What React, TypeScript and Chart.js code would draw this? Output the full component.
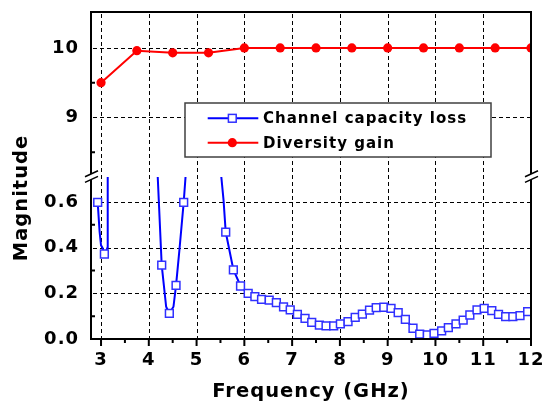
import { useEffect, useRef } from "react";
import { Chart, registerables } from "chart.js";

Chart.register(...registerables);

// Axis ticks
const freqTicks = [3, 4, 5, 6, 7, 8, 9, 10, 11, 12];
const freqMinorTicks = [3.5, 4.5, 5.5, 6.5, 7.5, 8.5, 9.5, 10.5, 11.5];
const gainTicks = [9, 10];
const gainMinorTicks = [8.5, 9.5];
const lossTicks = [0, 0.2, 0.4, 0.6];
const lossMinorTicks = [0.1, 0.3, 0.5];

// Diversity gain (upper panel)
const gainFreq = [3, 3.75, 4.5, 5.25, 6, 6.75, 7.5, 8.25, 9, 9.75, 10.5, 11.25, 12];
const gainValue = [9.5, 9.96, 9.93, 9.93, 10, 10, 10, 10, 10, 10, 10, 10, 10];

// Channel capacity loss: marked samples (lower panel)
const lossMarkFreq = [
  2.93, 3.07, 4.27, 4.43, 4.57, 4.73, 5.61, 5.77, 5.92, 6.08, 6.22, 6.36, 6.52,
  6.67, 6.82, 6.96, 7.11, 7.27, 7.41, 7.57, 7.71, 7.87, 8.01, 8.17, 8.32, 8.47,
  8.62, 8.76, 8.92, 9.07, 9.22, 9.37, 9.53, 9.67, 9.83, 9.97, 10.13, 10.27,
  10.43, 10.58, 10.72, 10.87, 11.02, 11.18, 11.32, 11.47, 11.62, 11.77, 11.93,
];
const lossMarkValue = [
  0.598, 0.372, 0.323, 0.112, 0.235, 0.598, 0.468, 0.303, 0.232, 0.2, 0.185,
  0.173, 0.17, 0.159, 0.141, 0.127, 0.108, 0.09, 0.073, 0.061, 0.057, 0.057,
  0.066, 0.076, 0.095, 0.109, 0.126, 0.137, 0.139, 0.134, 0.115, 0.086, 0.047,
  0.021, 0.018, 0.025, 0.036, 0.05, 0.066, 0.083, 0.105, 0.127, 0.134, 0.124,
  0.108, 0.098, 0.098, 0.102, 0.12,
];

// Unmarked trace points of the same curve; null breaks the trace while it is off scale
const lossTraceFreq = [
  2.97, 3.0, 3.03, 3.05, 3.11, 3.135, 3.14, 3.6, 4.178, 4.363, 4.516, 4.641,
  4.783, 5.1, 5.499, 5.564, 12.0,
];
const lossTraceValue = [
  0.47, 0.41, 0.4, 0.385, 0.385, 0.4, 0.75, null, 0.75, 0.141, 0.141, 0.39,
  0.75, null, 0.75, 0.609, 0.126,
];

const FONT = "'DejaVu Sans', 'Verdana', sans-serif";
const BLUE = "#0000ff";
const RED = "#ff0000";
const CLEAR = "rgba(0,0,0,0)";

type Pt = { x: number; y: number | null };

const lossMarks: Pt[] = lossMarkFreq.map((x, i) => ({ x, y: lossMarkValue[i] }));
const lossTrace: Pt[] = [
  ...lossMarks,
  ...lossTraceFreq.map((x, i) => ({ x, y: lossTraceValue[i] })),
].sort((a, b) => a.x - b.x);
const gainPoints: Pt[] = gainFreq.map((x, i) => ({ x, y: gainValue[i] }));

function drawSquare(ctx: CanvasRenderingContext2D, x: number, y: number, side: number) {
  ctx.fillStyle = "#ffffff";
  ctx.strokeStyle = "#3030ff";
  ctx.lineWidth = 1.5;
  ctx.fillRect(x - side / 2, y - side / 2, side, side);
  ctx.strokeRect(x - side / 2, y - side / 2, side, side);
}

// dashed grid line built from short filled segments (4 px on, 3 px off)
function dashedH(ctx: CanvasRenderingContext2D, x0: number, x1: number, y: number) {
  const yy = Math.round(y);
  for (let p = x0 + 2; p < x1 - 1; p += 7) {
    ctx.fillRect(Math.round(p), yy, Math.min(4, x1 - p), 1);
  }
}
function dashedV(ctx: CanvasRenderingContext2D, y0: number, y1: number, x: number) {
  const xx = Math.round(x);
  for (let p = y0 + 2; p < y1 - 1; p += 7) {
    ctx.fillRect(xx, Math.round(p), 1, Math.min(4, y1 - p));
  }
}

const decorations = {
  id: "decorations",
  beforeUpdate(chart: any) {
    chart.ctx.letterSpacing = "1px";
  },
  beforeDraw(chart: any) {
    chart.ctx.letterSpacing = "1px";
  },
  // dashed grid of both panels
  beforeDatasetsDraw(chart: any) {
    const { ctx, chartArea: a, scales } = chart;
    const { x, yTop, yBot } = scales;
    ctx.save();
    ctx.fillStyle = "#000000";
    freqTicks.forEach((v) => {
      const px = x.getPixelForValue(v);
      if (px <= a.left + 1 || px >= a.right - 1) return;
      dashedV(ctx, a.top, a.bottom, px);
    });
    gainTicks.forEach((v) => {
      dashedH(ctx, a.left, a.right, yTop.getPixelForValue(v));
    });
    lossTicks.forEach((v) => {
      const py = yBot.getPixelForValue(v);
      if (py >= a.bottom - 1) return;
      dashedH(ctx, a.left, a.right, py);
    });
    ctx.restore();
  },
  // keep each series inside its own panel of the broken axis
  beforeDatasetDraw(chart: any, args: any) {
    const { ctx, chartArea } = chart;
    const ys = args.meta.yScale;
    ctx.save();
    ctx.beginPath();
    ctx.rect(chartArea.left - 6, ys.top, chartArea.right - chartArea.left + 12, ys.bottom - ys.top + 5);
    ctx.clip();
  },
  afterDatasetDraw(chart: any) {
    chart.ctx.restore();
  },
  afterDatasetsDraw(chart: any) {
    const { ctx, chartArea: a, scales } = chart;
    const x = scales.x;
    const yTop = scales.yTop;
    const yBot = scales.yBot;

    // legend
    const lx = a.left + 94;
    const ly = a.top + 91;
    ctx.save();
    ctx.fillStyle = "#ffffff";
    ctx.fillRect(lx, ly, 306, 54);
    ctx.strokeStyle = "#404040";
    ctx.lineWidth = 1.5;
    ctx.strokeRect(lx, ly, 306, 54);
    const rows = [
      { label: "Channel capacity loss", color: BLUE, dy: 15.3 },
      { label: "Diversity gain", color: RED, dy: 39.7 },
    ];
    rows.forEach((r, i) => {
      const cy = ly + r.dy;
      ctx.strokeStyle = r.color;
      ctx.lineWidth = 2;
      ctx.beginPath();
      ctx.moveTo(lx + 22.7, cy);
      ctx.lineTo(lx + 73.3, cy);
      ctx.stroke();
      if (i === 0) {
        drawSquare(ctx, lx + 47.3, cy, 7.8);
      } else {
        ctx.fillStyle = RED;
        ctx.beginPath();
        ctx.arc(lx + 47.3, cy, 4.6, 0, Math.PI * 2);
        ctx.fill();
      }
      ctx.fillStyle = "#000000";
      ctx.font = `bold 15px ${FONT}`;
      ctx.letterSpacing = "1px";
      ctx.textAlign = "left";
      ctx.textBaseline = "middle";
      ctx.fillText(r.label, lx + 78, cy + 1);
    });
    ctx.restore();

    // frame
    ctx.save();
    ctx.strokeStyle = "#000000";
    ctx.lineWidth = 2;
    ctx.strokeRect(a.left, a.top, a.right - a.left, a.bottom - a.top);

    // major and minor ticks
    ctx.beginPath();
    freqTicks.forEach((v) => {
      const px = x.getPixelForValue(v);
      ctx.moveTo(px, a.bottom);
      ctx.lineTo(px, a.bottom + 7);
    });
    freqMinorTicks.forEach((v) => {
      const px = x.getPixelForValue(v);
      ctx.moveTo(px, a.bottom);
      ctx.lineTo(px, a.bottom + 4);
    });
    gainMinorTicks.forEach((v) => {
      const py = yTop.getPixelForValue(v);
      ctx.moveTo(a.left, py);
      ctx.lineTo(a.left + 4, py);
    });
    lossMinorTicks.forEach((v) => {
      const py = yBot.getPixelForValue(v);
      ctx.moveTo(a.left, py);
      ctx.lineTo(a.left + 4, py);
    });
    ctx.stroke();

    // axis break marks
    const by = yBot.top;
    [a.left, a.right].forEach((bx) => {
      ctx.fillStyle = "#ffffff";
      ctx.beginPath();
      ctx.moveTo(bx - 6, by - 0.2);
      ctx.lineTo(bx + 7, by - 6.2);
      ctx.lineTo(bx + 7, by - 0.6);
      ctx.lineTo(bx - 6, by + 5.4);
      ctx.closePath();
      ctx.fill();
      ctx.strokeStyle = "#000000";
      ctx.lineWidth = 1.5;
      ctx.beginPath();
      ctx.moveTo(bx - 6, by - 0.2);
      ctx.lineTo(bx + 7, by - 6.2);
      ctx.moveTo(bx - 6, by + 5.4);
      ctx.lineTo(bx + 7, by - 0.6);
      ctx.stroke();
    });

    // y title
    ctx.translate(a.left - 69.5, a.top + 186);
    ctx.rotate(-Math.PI / 2);
    ctx.fillStyle = "#000000";
    ctx.font = `bold 19.5px ${FONT}`;
    ctx.letterSpacing = "1px";
    ctx.textAlign = "center";
    ctx.textBaseline = "middle";
    ctx.fillText("Magnitude", 0, 0);
    ctx.restore();
  },
};

const hiddenGrid = { color: CLEAR, lineWidth: 1, drawTicks: false };
const hiddenBorder = { display: false };

export default function App() {
  const canvasRef = useRef<HTMLCanvasElement | null>(null);

  useEffect(() => {
    document.body.style.margin = "0";
    const canvas = canvasRef.current;
    if (!canvas) return;

    const fitY = (s: any) => {
      s.width = 91;
      s.paddingTop = 0;
      s.paddingBottom = 0;
    };

    const chart = new Chart(canvas, {
      type: "line",
      data: {
        datasets: [
          {
            label: "Channel capacity loss markers",
            data: lossMarks as any,
            yAxisID: "yBot",
            showLine: false,
            pointStyle: "rect",
            pointRadius: 5.5,
            pointBorderWidth: 1.5,
            pointBorderColor: "#3030ff",
            pointBackgroundColor: "#ffffff",
            order: 0,
          },
          {
            label: "Channel capacity loss",
            data: lossTrace as any,
            yAxisID: "yBot",
            borderColor: BLUE,
            borderWidth: 2,
            pointRadius: 0,
            spanGaps: false,
            order: 1,
          },
          {
            label: "Diversity gain",
            data: gainPoints as any,
            yAxisID: "yTop",
            borderColor: RED,
            borderWidth: 2,
            pointRadius: 4.6,
            pointBackgroundColor: RED,
            pointBorderColor: RED,
            pointBorderWidth: 0,
            order: 2,
          },
        ],
      },
      options: {
        responsive: false,
        animation: false,
        devicePixelRatio: 1,
        layout: { padding: { top: 12, right: 13, left: 0, bottom: 0 } },
        font: { family: FONT, weight: "bold" } as any,
        plugins: {
          legend: { display: false },
          tooltip: { enabled: false },
        },
        scales: {
          x: {
            type: "linear",
            min: 2.79,
            max: 12,
            afterBuildTicks: (s: any) => {
              s.ticks = freqTicks.map((v) => ({ value: v }));
            },
            afterFit: (s: any) => {
              s.height = 65;
              s.paddingLeft = 0;
              s.paddingRight = 0;
            },
            border: hiddenBorder,
            grid: {
              color: CLEAR,
              lineWidth: 1,
              drawTicks: true,
              tickLength: 7,
              tickColor: CLEAR,
            },
            ticks: {
              color: "#000000",
              padding: 4,
              maxRotation: 0,
              font: { family: FONT, size: 18, weight: "bold" },
              callback: (v: any) => String(v),
            },
            title: {
              display: true,
              text: "Frequency (GHz)",
              color: "#000000",
              padding: { top: 0, bottom: 0 },
              font: { family: FONT, size: 19.5, weight: "bold" },
            },
          },
          yBot: {
            type: "linear",
            position: "left",
            stack: "mag",
            stackWeight: 162,
            min: 0,
            max: 0.709,
            afterBuildTicks: (s: any) => {
              s.ticks = lossTicks.map((v) => ({ value: v }));
            },
            afterFit: fitY,
            border: hiddenBorder,
            grid: hiddenGrid,
            ticks: {
              color: "#000000",
              padding: 12,
              font: { family: FONT, size: 18, weight: "bold" },
              callback: (v: any) => Number(v).toFixed(1),
            },
          },
          yTop: {
            type: "linear",
            position: "left",
            stack: "mag",
            stackWeight: 165,
            min: 8.142,
            max: 10.517,
            afterBuildTicks: (s: any) => {
              s.ticks = gainTicks.map((v) => ({ value: v }));
            },
            afterFit: fitY,
            border: hiddenBorder,
            grid: hiddenGrid,
            ticks: {
              color: "#000000",
              padding: 12,
              font: { family: FONT, size: 18, weight: "bold" },
              callback: (v: any) => String(v),
            },
          },
        },
      } as any,
      plugins: [decorations],
    });

    return () => chart.destroy();
  }, []);

  return (
    <div style={{ width: 544, height: 404, background: "#ffffff" }}>
      <canvas ref={canvasRef} width={544} height={404} />
    </div>
  );
}
